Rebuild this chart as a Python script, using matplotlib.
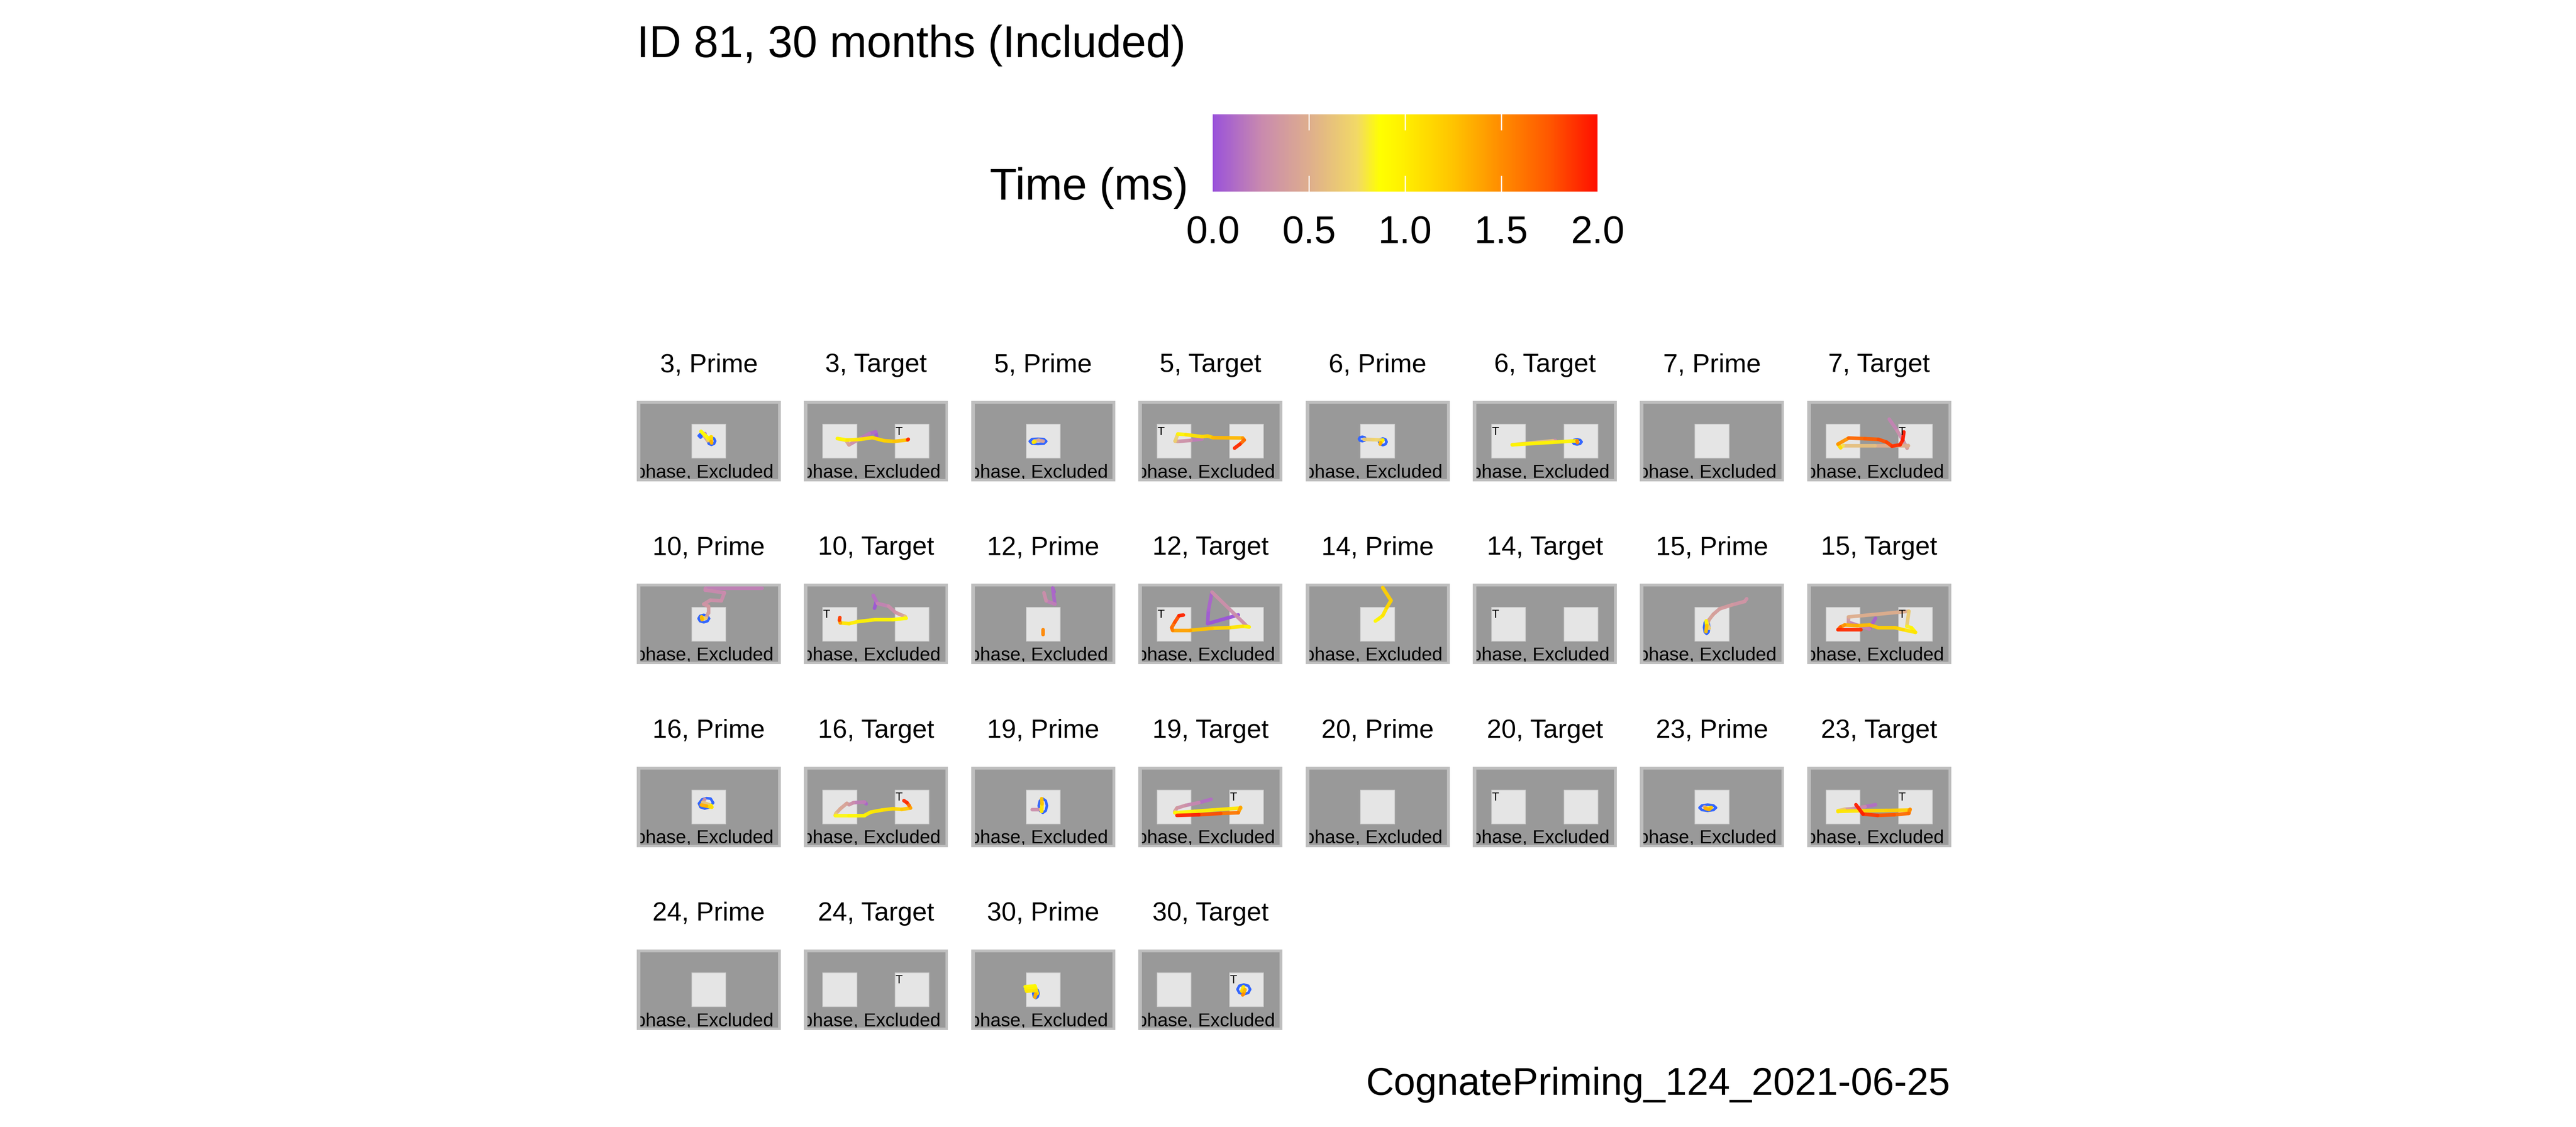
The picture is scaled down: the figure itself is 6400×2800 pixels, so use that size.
import numpy as np
import matplotlib
matplotlib.use("Agg")
import matplotlib.pyplot as plt
from matplotlib.collections import LineCollection
from matplotlib.colors import LinearSegmentedColormap, Normalize
from matplotlib.patches import Rectangle

plt.rcParams['font.family'] = ['Liberation Sans', 'DejaVu Sans']
nan = np.nan

# ---------------- data ----------------
title = "ID 81, 30 months (Included)"
caption = "CognatePriming_124_2021-06-25"
cbar_label = "Time (ms)"
cbar_ticks = [0.0, 0.5, 1.0, 1.5, 2.0]
cbar_ticklabels = ["0.0", "0.5", "1.0", "1.5", "2.0"]
panel_note = "phase, Excluded"

trials = [3, 5, 6, 7, 10, 12, 14, 15, 16, 19, 20, 23, 24, 30]
phases = ["Prime", "Target"]
target_side = ['R', 'L', 'L', 'R', 'L', 'L', 'L', 'R', 'R', 'R', 'L', 'R', 'R', 'R']

# gaze samples in screen pixels (1920x1080), time in ms-scale units
g3p_x = [910, 900, 945, 960, 856, 900, 963, 990, 990, 998]
g3p_y = [440, 470, 535, 520, 409, 450, 508, 481, 544, 565]
g3p_t = [0.0, 0.3, 0.5, 0.7, 0.85, 0.9, 0.95, 1.05, 1.2, 1.5]
f3p_x = [875, 850, 825, 850, 875, nan, 1045, 1030, 995, 960, 945, 960, 995, 1030, 1045]
f3p_y = [468, 443, 468, 493, 468, nan, 540, 505, 490, 505, 540, 575, 590, 575, 540]

g3t_x = [968, 955, 870, 760, 600, 560, 445, 576, 754, 910, 1066, 1200, 1378, 1390, 1385]
g3t_y = [480, 415, 440, 500, 590, 530, 505, 525, 516, 493, 534, 543, 525, 515, 520]
g3t_t = [0.0, 0.08, 0.15, 0.22, 0.35, 0.55, 0.85, 1.0, 1.05, 1.1, 1.15, 1.2, 1.3, 1.8, 2.0]

g5p_x = [960, 900, 840, 830, 850]
g5p_y = [540, 528, 540, 555, 550]
g5p_t = [0.4, 0.45, 0.5, 1.0, 1.1]
f5p_x = [1000, 970, 890, 810, 780, 810, 890, 970, 1000]
f5p_y = [543, 513, 508, 513, 543, 573, 578, 573, 543]

g5t_x = [850, 700, 526, 490, 526, 634, 850, 922, 994, 1390, 1411, 1354, 1282]
g5t_y = [511, 530, 544, 540, 444, 453, 480, 471, 493, 498, 525, 580, 634]
g5t_t = [0.15, 0.25, 0.35, 0.5, 0.9, 1.0, 1.1, 1.15, 1.2, 1.4, 1.5, 1.8, 2.0]

g6p_x = [778, 900, 1030, 1000, 994]
g6p_y = [516, 520, 525, 560, 580]
g6p_t = [0.65, 0.7, 0.75, 1.2, 1.5]
f6p_x = [801, 788, 756, 724, 711, 724, 756, 788, 801, nan, 1080, 1065, 1030, 995, 980, 995, 1030, 1065, 1080]
f6p_y = [511, 490, 481, 490, 511, 532, 541, 532, 511, nan, 549, 517, 504, 517, 549, 581, 594, 581, 549]

g6t_x = [1100, 1066, 526, 1390, 1395]
g6t_y = [530, 535, 589, 535, 560]
g6t_t = [0.25, 0.3, 0.9, 1.0, 2.0]
f6t_x = [1450, 1432, 1390, 1348, 1330, 1348, 1390, 1432, 1450]
f6t_y = [550, 525, 515, 525, 550, 575, 585, 575, 550]

g7t_x = [1094, 1200, 1274, 1332, 1346, 900, 482, 446, 410, 554, 770, 950, 1058, 1130, 1238, 1274, 1289]
g7t_y = [245, 400, 525, 634, 598, 598, 598, 630, 580, 498, 507, 516, 553, 607, 589, 525, 417]
g7t_t = [0.2, 0.25, 0.3, 0.35, 0.45, 0.55, 0.65, 0.9, 1.3, 1.65, 1.7, 1.75, 1.8, 1.85, 1.9, 1.95, 2.0]

g10p_x = [1670, 911, 911, 1168, 1127, 981, 893, 952, 952, 922, 880, 864, 870]
g10p_y = [58, 58, 85, 121, 229, 220, 274, 301, 391, 463, 470, 445, 481]
g10p_t = [0.2, 0.22, 0.24, 0.26, 0.28, 0.3, 0.32, 0.34, 0.38, 0.42, 0.9, 1.1, 1.5]
f10p_x = [963, 943, 893, 843, 823, 843, 893, 943, 963]
f10p_y = [467, 432, 417, 432, 467, 502, 517, 502, 467]

g10t_x = [940, 964, 923, 981, 1127, 1215, 1273, 1349, 1361, 1186, 952, 718, 601, 485, 473, 478]
g10t_y = [328, 238, 157, 265, 301, 382, 409, 440, 463, 481, 481, 508, 535, 526, 490, 454]
g10t_t = [0.0, 0.05, 0.1, 0.2, 0.25, 0.3, 0.35, 0.45, 0.85, 0.9, 0.95, 1.0, 1.0, 1.1, 1.7, 2.0]

g12p_x = [1104, 1086, 1116, 999, 970, nan, 958, 958]
g12p_y = [110, 58, 274, 229, 121, nan, 616, 679]
g12p_t = [0.0, 0.05, 0.15, 0.25, 0.3, nan, 1.5, 1.55]

g12t_x = [1332, 923, 934, 981, 1449, 1477, 1390, 1215, 981, 689, 456, 444, 485, 543, 600]
g12t_y = [418, 535, 355, 112, 571, 580, 571, 589, 598, 625, 625, 589, 517, 427, 420]
g12t_t = [0.0, 0.03, 0.06, 0.12, 0.45, 0.9, 1.0, 1.1, 1.2, 1.3, 1.5, 1.6, 1.7, 1.85, 2.0]

g14p_x = [930, 972, 1028, 1083, 1139, 1028]
g14p_y = [500, 472, 427, 319, 225, 52]
g14p_t = [0.9, 0.95, 1.0, 1.1, 1.15, 1.2]

g15p_x = [1422, 1395, 1228, 1061, 978, 922, 895, 922, 883, 890, 880]
g15p_y = [202, 238, 283, 337, 409, 481, 553, 598, 499, 560, 643]
g15p_t = [0.3, 0.32, 0.35, 0.38, 0.4, 0.42, 0.45, 0.5, 0.9, 1.0, 1.5]
f15p_x = [924, 914, 889, 864, 854, 864, 889, 914, 924]
f15p_y = [584, 520, 494, 520, 584, 648, 674, 648, 584]

g15t_x = [911, 828, 550, 550, 1356, 1328, 1389, 1444, 1278, 1167, 945, 833, 667, 500, 444, 411, 717]
g15t_y = [463, 607, 517, 445, 369, 571, 589, 652, 616, 589, 589, 553, 562, 553, 580, 616, 616]
g15t_t = [0.0, 0.15, 0.3, 0.4, 0.6, 0.75, 0.9, 1.0, 1.1, 1.15, 1.2, 1.25, 1.3, 1.4, 1.55, 1.8, 2.0]

g16p_x = [905, 880, 990, 1000, 930, 860]
g16p_y = [440, 480, 520, 545, 530, 515]
g16p_t = [0.25, 0.35, 0.9, 1.0, 1.2, 1.5]
f16p_x = [1018, 985, 930, 870, 828, 850, 905, 965, 1018]
f16p_y = [485, 430, 423, 440, 495, 545, 563, 548, 485]

g16t_x = [830, 806, 660, 601, 572, 485, 426, 415, 601, 806, 893, 1039, 1186, 1303, 1420, 1400, 1373, 1332]
g16t_y = [500, 475, 484, 511, 493, 565, 628, 655, 655, 655, 610, 583, 565, 574, 556, 520, 484, 457]
g16t_t = [0.05, 0.15, 0.25, 0.3, 0.4, 0.45, 0.5, 0.8, 0.9, 0.95, 1.0, 1.05, 1.1, 1.15, 1.3, 1.5, 1.8, 2.0]

g19p_x = [812, 929, 940, 945, 940]
g19p_y = [574, 574, 600, 500, 430]
g19p_t = [0.25, 0.3, 1.0, 1.1, 1.4]
f19p_x = [1010, 994, 955, 916, 900, 916, 955, 994, 1010]
f19p_y = [525, 458, 430, 458, 525, 592, 620, 592, 525]

g19t_x = [969, 806, 631, 514, 485, 485, 748, 981, 1361, 1361, 1332, 1098, 806, 514]
g19t_y = [439, 484, 520, 556, 601, 619, 601, 583, 556, 547, 619, 628, 646, 655]
g19t_t = [0.05, 0.2, 0.28, 0.33, 0.38, 0.9, 0.95, 1.0, 1.05, 1.3, 1.5, 1.7, 1.85, 2.0]

g23p_x = [860, 900, 950, 920, 870]
g23p_y = [540, 560, 550, 575, 560]
g23p_t = [0.4, 0.5, 1.2, 1.3, 1.4]
f23p_x = [1013, 981, 903, 825, 793, 825, 903, 981, 1013]
f23p_y = [552, 522, 510, 522, 552, 582, 594, 582, 552]

g23t_x = [911, 772, 605, 494, 411, 411, 717, 1050, 1355, 1372, 1355, 1161, 939, 744, 650]
g23t_y = [511, 538, 565, 574, 592, 601, 592, 589, 583, 574, 628, 646, 655, 637, 511]
g23t_t = [0.05, 0.2, 0.3, 0.45, 0.85, 1.0, 1.1, 1.15, 1.2, 1.4, 1.6, 1.7, 1.8, 1.9, 2.0]

g30p_x = [720, 850, 860, 730, 740, 870, 880, 860, 850]
g30p_y = [500, 490, 520, 530, 560, 550, 590, 600, 640]
g30p_t = [0.9, 0.92, 0.95, 0.97, 1.0, 1.05, 1.1, 1.2, 1.5]
f30p_x = [897, 887, 862, 837, 827, 837, 862, 887, 897]
f30p_y = [591, 547, 529, 547, 591, 635, 653, 635, 591]

g30t_x = [1400, 1380, 1420, 1400, 1390]
g30t_y = [500, 560, 540, 600, 610]
g30t_t = [1.0, 1.1, 1.2, 1.4, 1.6]
f30t_x = [1490, 1465, 1405, 1345, 1320, 1345, 1405, 1465, 1490]
f30t_y = [535, 487, 470, 487, 535, 583, 600, 583, 535]

gaze = {
    (3, "Prime"): (g3p_x, g3p_y, g3p_t), (3, "Target"): (g3t_x, g3t_y, g3t_t),
    (5, "Prime"): (g5p_x, g5p_y, g5p_t), (5, "Target"): (g5t_x, g5t_y, g5t_t),
    (6, "Prime"): (g6p_x, g6p_y, g6p_t), (6, "Target"): (g6t_x, g6t_y, g6t_t),
    (7, "Target"): (g7t_x, g7t_y, g7t_t),
    (10, "Prime"): (g10p_x, g10p_y, g10p_t), (10, "Target"): (g10t_x, g10t_y, g10t_t),
    (12, "Prime"): (g12p_x, g12p_y, g12p_t), (12, "Target"): (g12t_x, g12t_y, g12t_t),
    (14, "Prime"): (g14p_x, g14p_y, g14p_t),
    (15, "Prime"): (g15p_x, g15p_y, g15p_t), (15, "Target"): (g15t_x, g15t_y, g15t_t),
    (16, "Prime"): (g16p_x, g16p_y, g16p_t), (16, "Target"): (g16t_x, g16t_y, g16t_t),
    (19, "Prime"): (g19p_x, g19p_y, g19p_t), (19, "Target"): (g19t_x, g19t_y, g19t_t),
    (23, "Prime"): (g23p_x, g23p_y, g23p_t), (23, "Target"): (g23t_x, g23t_y, g23t_t),
    (30, "Prime"): (g30p_x, g30p_y, g30p_t), (30, "Target"): (g30t_x, g30t_y, g30t_t),
}
fixations = {
    (3, "Prime"): (f3p_x, f3p_y), (5, "Prime"): (f5p_x, f5p_y),
    (6, "Prime"): (f6p_x, f6p_y), (6, "Target"): (f6t_x, f6t_y),
    (10, "Prime"): (f10p_x, f10p_y), (15, "Prime"): (f15p_x, f15p_y),
    (16, "Prime"): (f16p_x, f16p_y), (19, "Prime"): (f19p_x, f19p_y),
    (23, "Prime"): (f23p_x, f23p_y), (30, "Prime"): (f30p_x, f30p_y),
    (30, "Target"): (f30t_x, f30t_y),
}

# ---------------- style ----------------
W, H = 6400, 2800
fig = plt.figure(figsize=(64, 28), dpi=100)

def fx(px):
    return px / W

def fy(py):
    return 1 - py / H

cmap = LinearSegmentedColormap.from_list("time", [
    (0.0, '#9A52DA'), (0.125, '#C98AAE'), (0.25, '#DEAE8D'), (0.375, '#F2D966'),
    (0.435, '#FFFF00'), (0.5, '#FFEE00'), (0.625, '#FFC400'), (0.75, '#FF8C00'),
    (0.875, '#FF5800'), (1.0, '#FF1000')])
norm = Normalize(0, 2)

# title
fig.text(fx(1582), fy(142), title, fontsize=79.6, ha='left', va='baseline')

# colorbar
cb_l, cb_r, cb_t, cb_b = 3013, 3969, 284, 476
cax = fig.add_axes([fx(cb_l), fy(cb_b), (cb_r - cb_l) / W, (cb_b - cb_t) / H])
sm = plt.cm.ScalarMappable(norm=norm, cmap=cmap)
cb = fig.colorbar(sm, cax=cax, orientation='horizontal')
cb.outline.set_visible(False)
cax.set_xticks([])
tick_len = 38 / (cb_b - cb_t)
for v in cbar_ticks[1:-1]:
    cax.plot([v, v], [0, tick_len], color='white', lw=2.2, transform=cax.get_xaxis_transform(), clip_on=False)
    cax.plot([v, v], [1 - tick_len, 1], color='white', lw=2.2, transform=cax.get_xaxis_transform(), clip_on=False)
for v, lab in zip(cbar_ticks, cbar_ticklabels):
    cax.text(v, (cb_b - 604) / (cb_b - cb_t), lab, transform=cax.get_xaxis_transform(),
             fontsize=69.4, ha='center', va='baseline')
fig.text(fx(2952), fy(496), cbar_label, fontsize=79.6, ha='right', va='baseline')

# panels
P_LEFT0, P_TOP0 = 1582, 996
P_DX, P_DY = 415.4, 454.3
P_W, P_H = 358, 200
RECT_W, RECT_H, RECT_Y = 452, 453, 315
RECT_X = {'C': 734, 'L': 252, 'R': 1216}

panels = [(tr, ph, side) for tr, side in zip(trials, target_side) for ph in phases]
for i, (tr, ph, side) in enumerate(panels):
    r, c = divmod(i, 8)
    left = P_LEFT0 + c * P_DX
    top = P_TOP0 + r * P_DY
    ax = fig.add_axes([fx(left), fy(top + P_H), P_W / W, P_H / H])
    ax.set_xlim(0, 1920)
    ax.set_ylim(1080, 0)
    ax.axis('off')
    ax.add_patch(Rectangle((0, 0), 1920, 1080, fc='#BEBEBE', ec='none'))
    inner = Rectangle((48, 38), 1835, 1010, fc='#999999', ec='none')
    ax.add_patch(inner)
    keys = ['C'] if ph == "Prime" else ['L', 'R']
    for k in keys:
        ax.add_patch(Rectangle((RECT_X[k], RECT_Y), RECT_W, RECT_H, fc='#E5E5E5', ec='#CFCFCF', lw=1.2))
    if ph == "Target":
        ax.text(RECT_X[side], 338, "T", fontsize=21, ha='left', va='top')
    if (tr, ph) in fixations:
        bx, by = fixations[(tr, ph)]
        ax.plot(bx, by, color='#3366FF', lw=4.6, solid_capstyle='round', solid_joinstyle='round')
    if (tr, ph) in gaze:
        gx, gy, gt = gaze[(tr, ph)]
        segs, vals = [], []
        for j in range(len(gx) - 1):
            if np.isnan(gx[j]) or np.isnan(gx[j + 1]):
                continue
            segs.append([(gx[j], gy[j]), (gx[j + 1], gy[j + 1])])
            vals.append(0.5 * (gt[j] + gt[j + 1]))
        lc = LineCollection(segs, cmap=cmap, norm=norm, linewidths=6.4, alpha=0.95,
                            capstyle='round', joinstyle='round')
        lc.set_array(np.array(vals))
        ax.add_collection(lc)
    txt = ax.text(1822, 1030, panel_note, fontsize=33.5, ha='right', va='baseline',
                  clip_on=True)
    txt.set_clip_path(inner)
    fig.text(fx(left + P_W / 2), fy(top - 72), f"{tr}, {ph}", fontsize=47, ha='center', va='baseline')

fig.text(fx(4845), fy(2720), caption, fontsize=69.4, ha='right', va='baseline')

fig.savefig("out.png", dpi=100)
